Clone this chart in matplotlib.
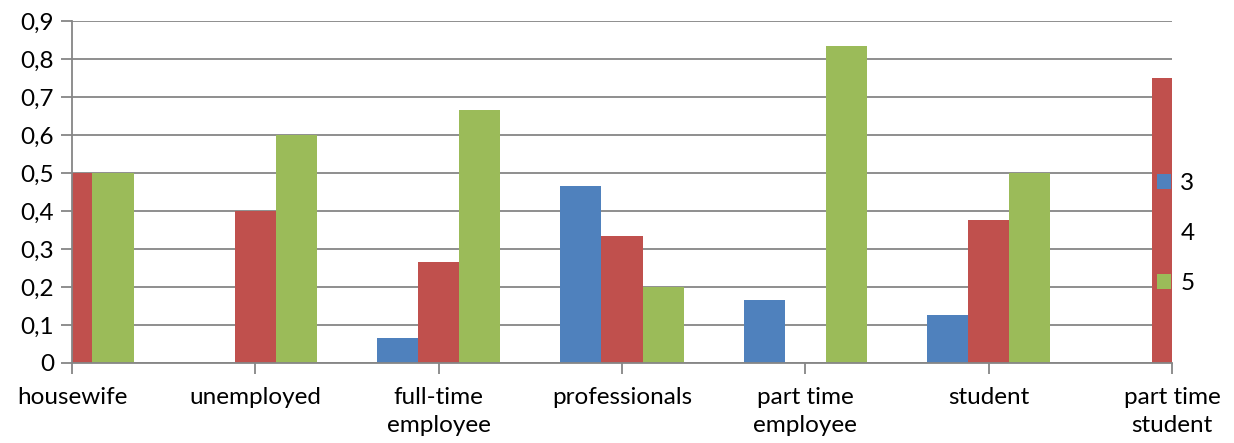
import matplotlib

matplotlib.use("Agg")
import matplotlib.pyplot as plt
import numpy as np
from matplotlib.patches import Patch
from matplotlib.ticker import FuncFormatter

categories = [
    "housewife",
    "unemployed",
    "full-time\nemployee",
    "professionals",
    "part time\nemployee",
    "student",
    "part time\nstudent",
]
series_names = ["3", "4", "5"]
score_3 = [0.0, 0.0, 0.0667, 0.4667, 0.1667, 0.125, 0.0]
score_4 = [0.5, 0.4, 0.2667, 0.3333, 0.0, 0.375, 0.75]
score_5 = [0.5, 0.6, 0.6667, 0.2, 0.8333, 0.5, 0.0]
colors = ["#4F81BD", "#C0504D", "#9BBB59"]

plt.rcParams["font.family"] = ["Lato", "DejaVu Sans"]
font_size = 17.5

fig = plt.figure(figsize=(12.34, 4.43), dpi=100)
ax = fig.add_axes([0.0583, 0.1806, 0.8915, 0.772])

x = np.arange(len(categories))
width = 0.224
for i, (values, color) in enumerate(zip([score_3, score_4, score_5], colors)):
    ax.bar(x + (i - 1) * width, values, width, color=color, zorder=3)

ax.set_xlim(0, len(categories) - 1)
ax.set_ylim(0, 0.9)
ax.set_yticks(np.arange(0, 0.91, 0.1))
ax.yaxis.set_major_formatter(
    FuncFormatter(lambda v, _: "0" if abs(v) < 1e-9 else f"{v:.1f}".replace(".", ","))
)
ax.set_xticks(x)
ax.set_xticklabels(categories, fontsize=font_size, linespacing=1.45)

grid_color = "#868686"
ax.grid(axis="y", color=grid_color, linewidth=1.3, zorder=0)
for side in ["top", "right"]:
    ax.spines[side].set_visible(False)
for side in ["left", "bottom"]:
    ax.spines[side].set_color(grid_color)
    ax.spines[side].set_linewidth(1.3)
    ax.spines[side].set_zorder(4)
ax.tick_params(axis="y", labelsize=font_size, color=grid_color, width=1.3, length=8, pad=5)
ax.tick_params(axis="x", color=grid_color, width=1.3, length=8, pad=9)

handles = [Patch(facecolor=c) for c in colors]
fig.legend(
    handles,
    series_names,
    loc="center left",
    bbox_to_anchor=(0.920, 0.473),
    frameon=False,
    fontsize=font_size,
    handlelength=0.55,
    handleheight=0.55,
    handletextpad=0.4,
    labelspacing=1.2,
)

fig.savefig("out.png", dpi=100)
plt.close(fig)
